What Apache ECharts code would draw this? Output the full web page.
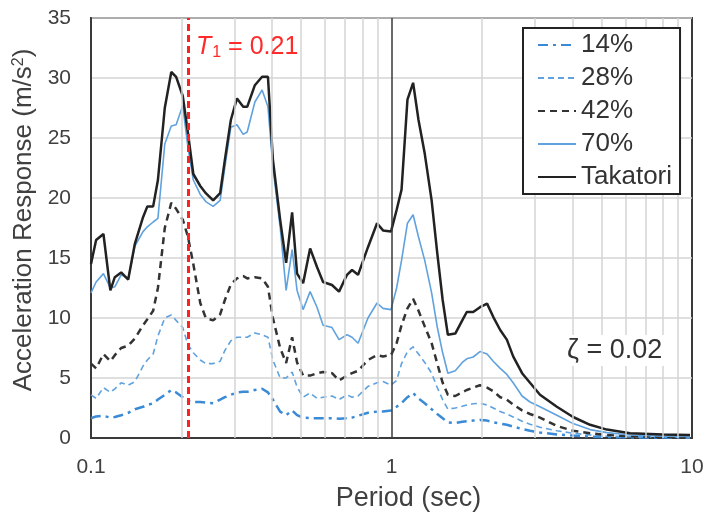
<!DOCTYPE html>
<html>
<head>
<meta charset="utf-8">
<script src="https://cdn.jsdelivr.net/npm/echarts@6/dist/echarts.min.js"></script>
<style>
html,body{margin:0;padding:0;background:#fff;}
#chart{width:707px;height:520px;}
</style>
</head>
<body>
<div id="chart"></div>
<script>
const periods = [0.100,0.104,0.110,0.116,0.120,0.126,0.133,0.140,0.149,0.154,
  0.161,0.167,0.176,0.185,0.192,0.202,0.210,0.219,0.231,0.241,
  0.255,0.269,0.279,0.292,0.306,0.321,0.331,0.351,0.371,0.388,
  0.403,0.426,0.446,0.467,0.485,0.508,0.536,0.565,0.592,0.634,
  0.669,0.711,0.739,0.774,0.835,0.895,0.937,0.996,1.04,1.08,
  1.13,1.18,1.23,1.29,1.36,1.42,1.48,1.54,1.63,1.72,
  1.78,1.87,1.97,2.08,2.18,2.30,2.42,2.54,2.72,2.89,
  3.12,3.55,4.02,4.58,5.21,6.22,8.01,9.85];

const takatori = [14.5,16.5,17.0,12.3,13.4,13.8,13.2,16.2,18.4,19.3,
  19.3,21.5,27.5,30.5,30.1,28.5,25.5,22.0,21.0,20.4,
  19.8,20.4,23.2,26.5,28.3,27.6,27.6,29.4,30.1,30.1,
  23.2,18.2,14.6,18.8,13.7,12.9,15.8,14.25,13.0,12.75,
  12.2,13.6,14.0,13.6,15.9,17.9,17.3,17.2,19.0,20.7,
  28.2,29.6,26.5,23.7,19.8,15.4,11.5,8.6,8.7,9.8,
  10.5,10.5,10.9,11.2,10.1,9.0,8.2,6.8,5.4,4.6,
  3.6,2.6,1.75,1.1,0.7,0.4,0.3,0.25];

const pct70 = [12.1,13.0,13.7,12.5,12.6,13.6,13.3,16.0,17.2,17.6,
  18.0,18.3,24.5,26.0,26.1,27.7,24.3,21.5,20.3,19.7,
  19.3,19.8,22.6,25.9,26.1,25.3,25.5,28.0,29.0,27.6,
  22.6,17.6,12.3,15.7,12.3,10.7,12.2,10.9,9.4,9.2,
  8.2,8.6,8.4,7.9,10.0,11.25,10.8,10.7,12.5,14.8,
  17.9,18.6,16.75,14.8,12.1,9.25,7.1,5.4,5.6,6.3,
  6.6,6.75,7.2,7.0,6.4,5.8,5.3,4.6,3.5,3.0,
  2.6,1.9,1.2,0.7,0.45,0.25,0.15,0.12];

const pct42 = [6.2,5.8,7.0,6.4,6.9,7.5,7.7,8.3,9.4,9.9,
  10.6,12.5,17.5,19.6,19.1,18.2,16.8,14.5,11.25,10.0,
  9.8,10.3,11.5,12.8,13.3,13.5,13.3,13.4,13.3,12.6,
  10.0,7.5,6.25,8.4,6.3,5.2,5.2,5.4,5.5,5.4,
  4.8,5.2,5.4,5.6,6.5,6.9,6.8,6.9,7.9,9.4,
  10.8,11.6,10.6,9.3,7.9,6.2,4.6,3.6,3.5,3.8,
  4.0,4.2,4.4,4.2,3.9,3.4,3.2,2.8,2.3,2.0,
  1.7,1.0,0.6,0.4,0.25,0.15,0.1,0.08];

const pct28 = [3.6,3.3,4.2,3.8,4.1,4.6,4.4,4.7,6.0,6.5,
  7.0,8.5,10.0,10.25,9.8,9.2,7.8,7.1,6.5,6.2,
  6.2,6.4,7.3,8.1,8.4,8.4,8.4,8.75,8.6,8.4,
  6.5,5.0,5.0,5.5,4.25,3.4,3.75,3.3,3.4,3.5,
  3.2,3.6,3.4,3.5,4.3,4.6,4.7,4.4,4.8,6.2,
  7.2,7.6,7.0,6.3,5.4,4.2,3.2,2.4,2.5,2.65,
  2.75,2.85,2.9,2.75,2.5,2.2,2.0,1.75,1.4,1.15,
  0.9,0.6,0.4,0.25,0.15,0.1,0.07,0.05];

const pct14 = [1.65,1.8,1.85,1.7,1.75,1.9,2.1,2.4,2.6,2.75,
  2.9,3.2,3.6,4.0,3.8,3.4,3.1,3.0,3.0,2.95,
  2.9,3.2,3.4,3.6,3.8,3.85,3.85,4.0,4.1,3.8,
  3.2,2.2,1.9,2.3,1.9,1.7,1.65,1.65,1.65,1.65,
  1.6,1.65,1.7,1.85,2.1,2.2,2.2,2.3,2.6,2.9,
  3.4,3.75,3.3,2.9,2.4,2.0,1.65,1.3,1.25,1.35,
  1.4,1.45,1.5,1.45,1.3,1.2,1.1,0.95,0.75,0.6,
  0.45,0.3,0.2,0.12,0.08,0.05,0.04,0.03];

const seriesNames = ['14%','28%','42%','70%','Takatori'];
const xTickLabels = ['0.1','1','10'];
const minorGridPeriods = [0.2,0.3,0.4,0.5,0.6,0.7,0.8,0.9,2,3,4,5,6,7,8,9];
const majorGridPeriods = [1];
const T1 = 0.21;
const dampingText = 'ζ = 0.02';

const zip = arr => periods.map((p, i) => [p, arr[i]]);

const chart = echarts.init(document.getElementById('chart'), null, {renderer: 'canvas'});
const FONT = '"Liberation Sans", Arial, sans-serif';
const TXT = '#404040';

const option = {
  backgroundColor: '#fff',
  animation: false,
  grid: {left: 91, right: 15, top: 18, bottom: 82, show: true, borderColor: '#3a3a3a', borderWidth: 2, backgroundColor: 'transparent'},
  legend: {
    data: seriesNames,
    orient: 'vertical',
    left: 523, top: 28,
    backgroundColor: '#fff',
    borderColor: '#222', borderWidth: 2,
    padding: [4, 8, 4, 14],
    itemWidth: 38, itemHeight: 14, itemGap: 7,
    itemStyle: {color: 'transparent', borderColor: 'transparent', borderWidth: 0, opacity: 0},
    textStyle: {fontFamily: FONT, fontSize: 26, color: '#333', lineHeight: 25},
    z: 10
  },
  xAxis: {
    type: 'log', logBase: 10, min: 0.1, max: 10,
    name: 'Period (sec)', nameLocation: 'middle', nameGap: 47,
    nameTextStyle: {fontFamily: FONT, fontSize: 27, color: TXT, padding: [0, 0, 0, 34]},
    axisLine: {show: true, lineStyle: {color: '#3a3a3a', width: 2}},
    axisTick: {show: false},
    splitLine: {show: false},
    axisLabel: {
      fontFamily: FONT, fontSize: 21, color: TXT, margin: 19,
      formatter: v => {
        const idx = Math.round(Math.log10(v)) + 1;
        return xTickLabels[idx] !== undefined ? xTickLabels[idx] : '';
      }
    }
  },
  yAxis: {
    type: 'value', min: 0, max: 35, interval: 5,
    name: '{a|Acceleration Response (m/s}{s|2}{a|)}',
    nameLocation: 'middle', nameGap: 50,
    nameTextStyle: {
      fontFamily: FONT, fontSize: 26, color: TXT, padding: [0, 0, 0, 16],
      rich: {
        a: {fontFamily: FONT, fontSize: 26, color: TXT},
        s: {fontFamily: FONT, fontSize: 16, color: TXT, verticalAlign: 'top', padding: [0, 0, 11, 0]}
      }
    },
    axisLine: {show: true, lineStyle: {color: '#3a3a3a', width: 2}},
    axisTick: {show: false},
    splitLine: {show: true, lineStyle: {color: '#d4d4d4', width: 1.5}},
    axisLabel: {fontFamily: FONT, fontSize: 21, color: TXT, margin: 20}
  },
  graphic: [
    {
      type: 'text', left: 196, top: 35, z: 20,
      style: {
        text: '{i|T}{b|1}{n| = 0.21}',
        rich: {
          i: {fontFamily: FONT, fontSize: 25, fontStyle: 'italic', fill: '#ff2a2a'},
          b: {fontFamily: FONT, fontSize: 16, fill: '#ff2a2a', padding: [10, 0, 0, 1]},
          n: {fontFamily: FONT, fontSize: 25, fill: '#ff2a2a'}
        }
      }
    },
    {
      type: 'text', left: 563, top: 335, z: 20,
      style: {
        text: dampingText, fontFamily: FONT, fontSize: 27, fill: '#333',
        backgroundColor: '#fff', padding: [2, 4, 2, 4]
      }
    }
  ],
  series: [
    {
      name: 'grid', type: 'line', data: [], z: 1, silent: true,
      markLine: {
        silent: true, symbol: ['none', 'none'], label: {show: false},
        animation: false,
        data: minorGridPeriods.map(v => ({xAxis: v, lineStyle: {color: '#d4d4d4', width: 1.5, type: 'solid'}}))
          .concat(majorGridPeriods.map(v => ({xAxis: v, lineStyle: {color: '#3a3a3a', width: 1.5, type: 'solid'}})))
      }
    },
    {
      name: '14%', type: 'line', data: zip(pct14), showSymbol: false, symbol: 'none', z: 3,
      itemStyle: {color: '#3a8ad6'},
      lineStyle: {color: '#3a8ad6', width: 2.5, type: [10, 5, 3, 5]}
    },
    {
      name: '28%', type: 'line', data: zip(pct28), showSymbol: false, symbol: 'none', z: 3,
      itemStyle: {color: '#5fa2de'},
      lineStyle: {color: '#5fa2de', width: 1.6, type: [6, 4]}
    },
    {
      name: '42%', type: 'line', data: zip(pct42), showSymbol: false, symbol: 'none', z: 3,
      itemStyle: {color: '#333'},
      lineStyle: {color: '#333', width: 2.5, type: [7, 5]}
    },
    {
      name: '70%', type: 'line', data: zip(pct70), showSymbol: false, symbol: 'none', z: 3,
      itemStyle: {color: '#5fa2de'},
      lineStyle: {color: '#5fa2de', width: 1.6, type: 'solid'}
    },
    {
      name: 'Takatori', type: 'line', data: zip(takatori), showSymbol: false, symbol: 'none', z: 4,
      itemStyle: {color: '#222'},
      lineStyle: {color: '#222', width: 2.5, type: 'solid'}
    },
    {
      name: 'T1', type: 'line', data: [], z: 5, silent: true,
      markLine: {
        silent: true, symbol: ['none', 'none'], label: {show: false}, animation: false,
        data: [{xAxis: T1, lineStyle: {color: '#ff2020', width: 3, type: [7, 4]}}]
      }
    }
  ]
};
chart.setOption(option);
</script>
</body>
</html>
